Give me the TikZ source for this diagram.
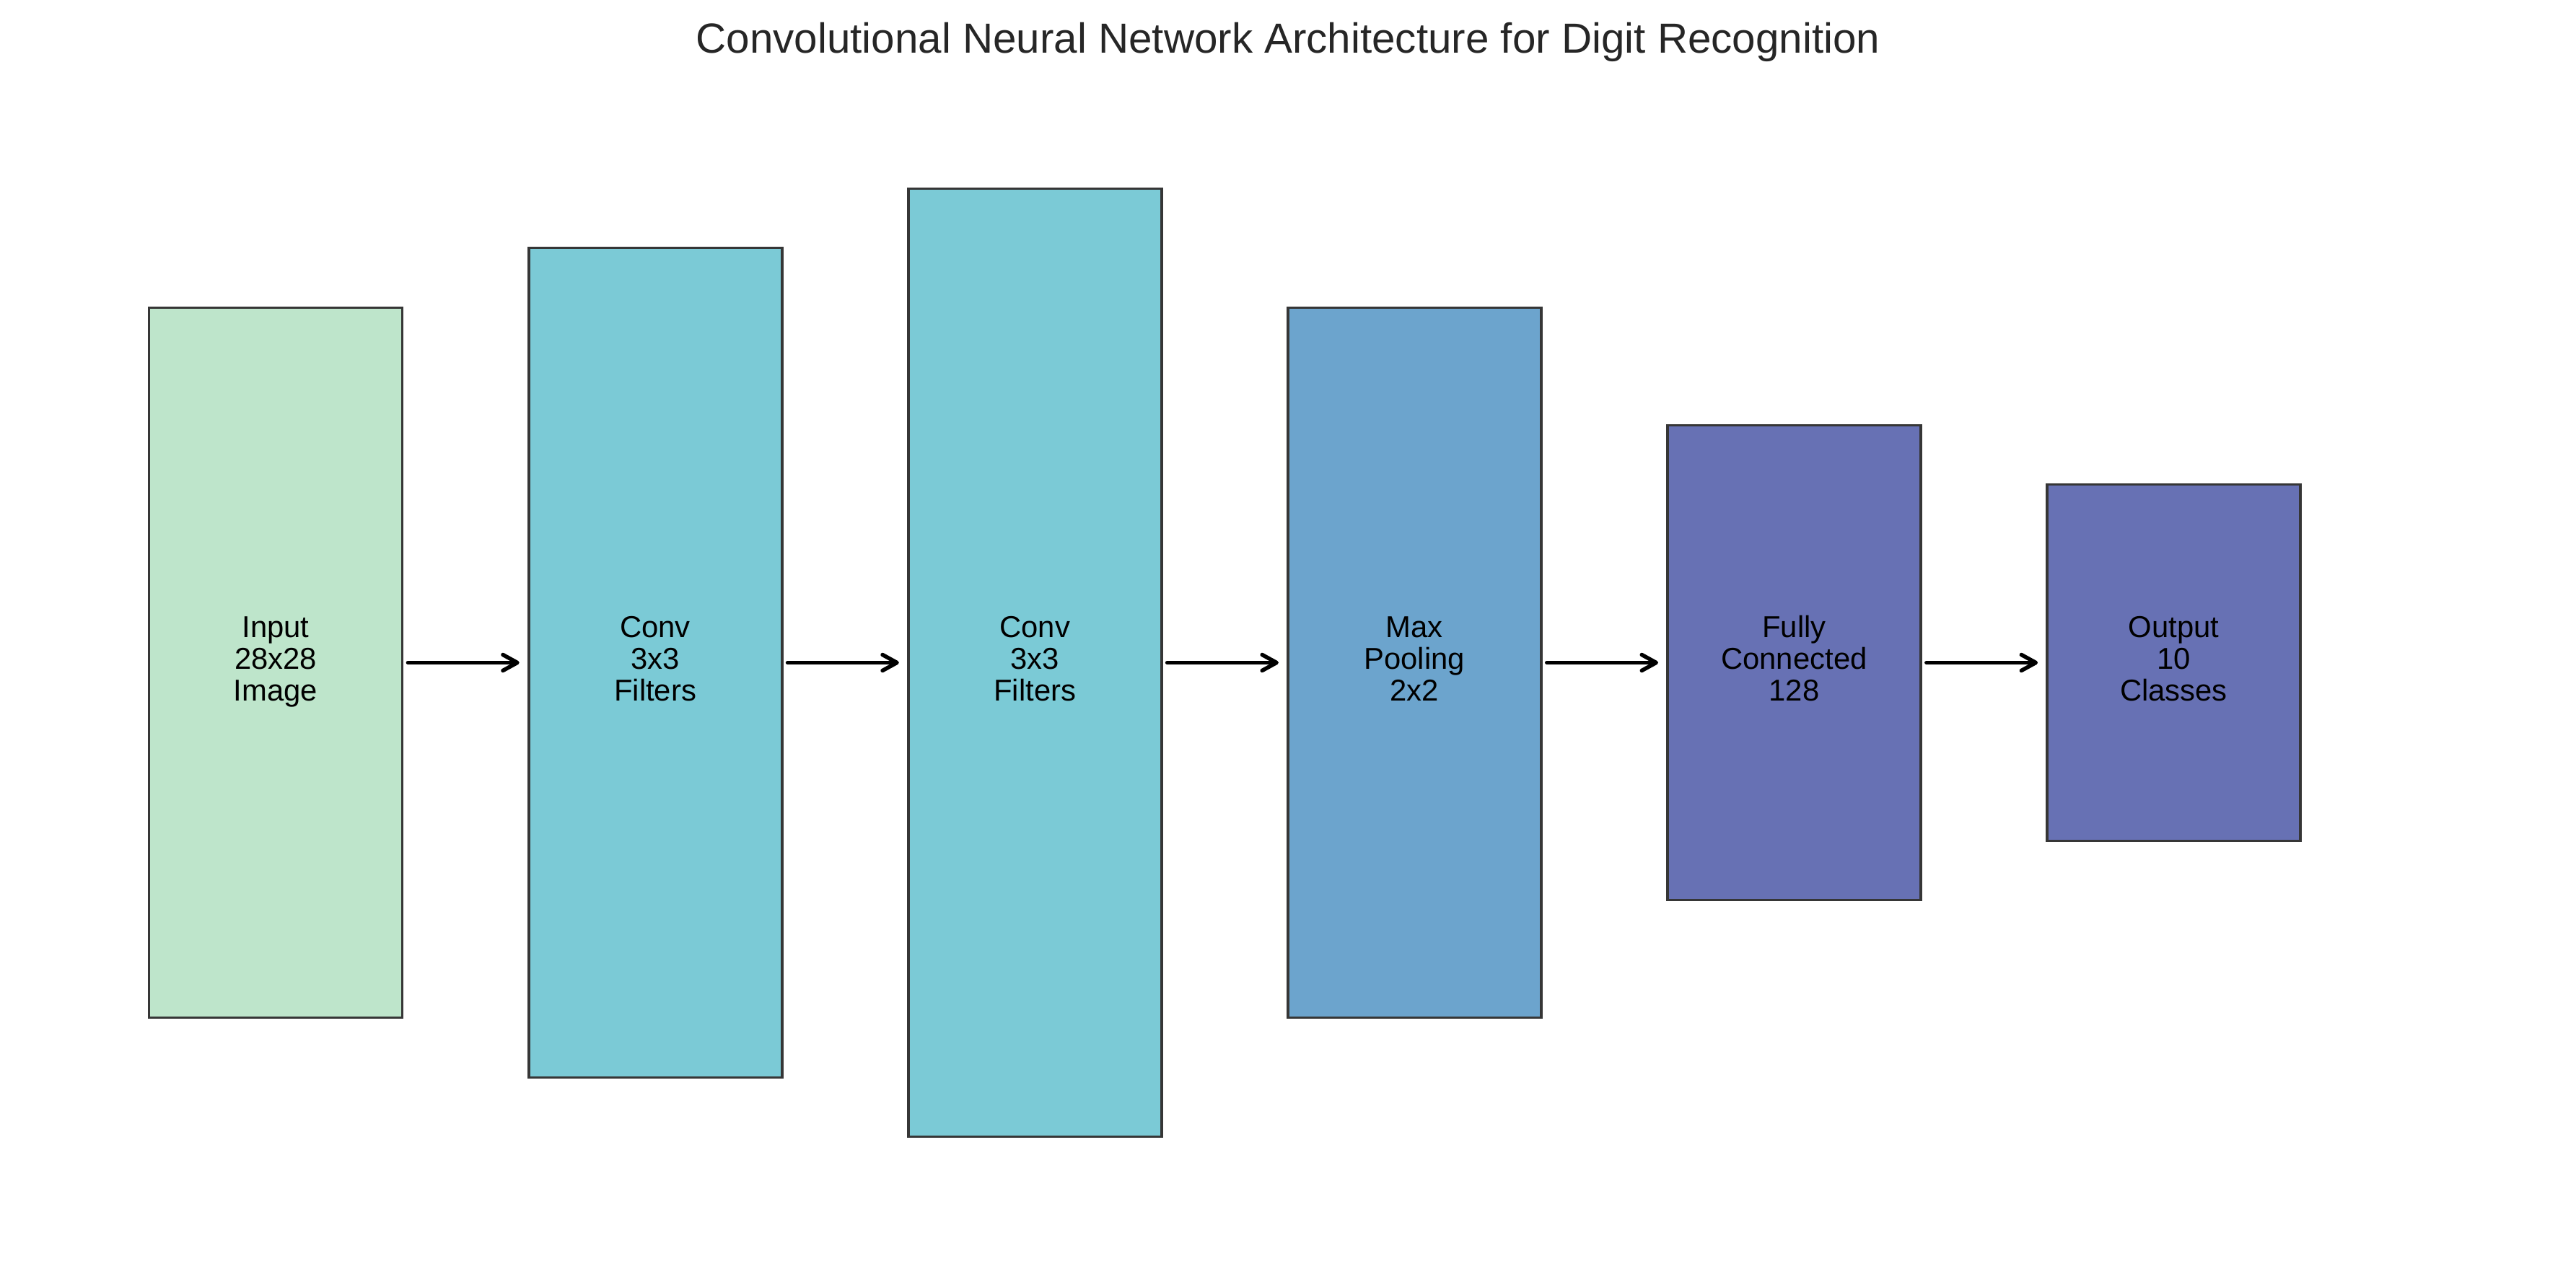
\documentclass[tikz,border=0pt]{standalone}
\usepackage{fontspec}
\setmainfont{Liberation Sans}
\usetikzlibrary{arrows.meta}
\definecolor{cinput}{HTML}{BEE5CB}
\definecolor{cconv}{HTML}{7BCAD6}
\definecolor{cpool}{HTML}{6CA4CD}
\definecolor{cdense}{HTML}{6771B4}
\definecolor{cedge}{HTML}{363636}
\definecolor{ctitle}{HTML}{262626}
\tikzset{
  layerbox/.style={draw=cedge, line width=0.038cm, rectangle, inner sep=0pt,
    minimum width=3.51cm, align=center, text=black,
    font=\fontsize{11.9pt}{12.5pt}\selectfont},
  flowarrow/.style={line width=0.055cm, line cap=round, black,
    -{Straight Barb[length=0.2cm, width=0.22cm, line cap=round, line join=round]},
    shorten <=0.06cm, shorten >=0.11cm}
}
\begin{document}
\begin{tikzpicture}
\useasboundingbox (0,0) rectangle (35.7,17.7);
\node[anchor=base, text=ctitle, font=\fontsize{16.6pt}{20pt}\selectfont] (title) at (17.85,16.96)
  {Convolutional Neural Network Architecture for Digit Recognition};
\node[layerbox, fill=cinput, minimum height=9.84cm] (n1) at (3.82,8.515) {\strut Input\\28x28\\Image\strut};
\node[layerbox, fill=cconv, minimum height=11.50cm] (n2) at (9.081,8.515) {\strut Conv\\3x3\\Filters\strut};
\node[layerbox, fill=cconv, minimum height=13.14cm] (n3) at (14.342,8.515) {\strut Conv\\3x3\\Filters\strut};
\node[layerbox, fill=cpool, minimum height=9.84cm] (n4) at (19.603,8.515) {\strut Max\\Pooling\\2x2\strut};
\node[layerbox, fill=cdense, minimum height=6.58cm] (n5) at (24.864,8.515) {\strut Fully\\Connected\\128\strut};
\node[layerbox, fill=cdense, minimum height=4.94cm] (n6) at (30.125,8.515) {\strut Output\\10\\Classes\strut};
\draw[flowarrow] (n1.east) -- (n2.west);
\draw[flowarrow] (n2.east) -- (n3.west);
\draw[flowarrow] (n3.east) -- (n4.west);
\draw[flowarrow] (n4.east) -- (n5.west);
\draw[flowarrow] (n5.east) -- (n6.west);
\end{tikzpicture}
\end{document}
